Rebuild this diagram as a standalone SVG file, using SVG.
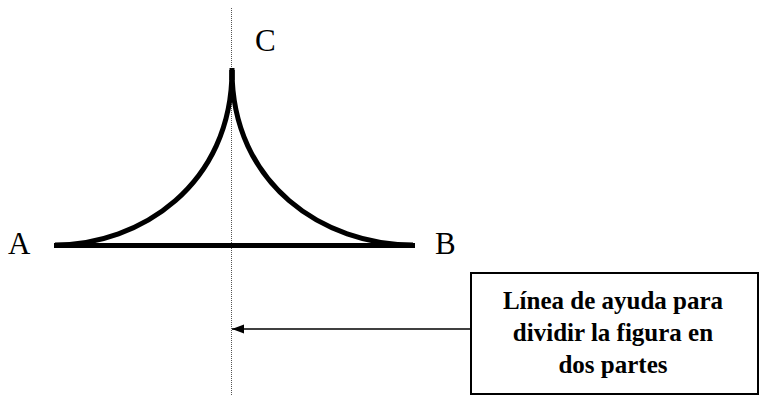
<svg xmlns="http://www.w3.org/2000/svg" width="759" height="396" viewBox="0 0 759 396">
<style>
.lbl{font-family:"Liberation Serif","Times New Roman",serif;font-size:31px;fill:#000}
.bt{font-family:"Liberation Serif","Times New Roman",serif;font-size:25px;font-weight:bold;fill:#000;text-anchor:middle}
.shape{fill:none;stroke:#000;stroke-width:5}
</style>
<defs>
<marker id="ah" markerWidth="12" markerHeight="10" refX="12" refY="5" orient="auto" markerUnits="userSpaceOnUse">
<path d="M0,0.5 L12,5 L0,9.5 Z" fill="#000"/>
</marker>
</defs>
<rect width="759" height="396" fill="#fff"/>
<g id="helper-line">
<line x1="231.5" y1="8" x2="231.5" y2="396" stroke="#555" stroke-width="1" stroke-dasharray="1,1"/>
</g>
<g id="figure">
<path class="shape" d="M232,70 C232,185 140,245 55,245"/>
<path class="shape" d="M232,70 C232,185 324,245 413,245"/>
<line class="shape" x1="54" y1="245.5" x2="415" y2="245.5"/>
<line x1="232" y1="68" x2="232" y2="80" stroke="#000" stroke-width="5"/>
</g>
<g id="labels">
<text class="lbl" x="255" y="51">C</text>
<text class="lbl" x="8" y="254">A</text>
<text class="lbl" x="435" y="254">B</text>
</g>
<g id="note">
<rect x="471" y="273" width="287" height="121" fill="#fff" stroke="#000" stroke-width="2"/>
<text class="bt" x="613" y="309">Línea de ayuda para</text>
<text class="bt" x="613" y="341">dividir la figura en</text>
<text class="bt" x="613" y="373">dos partes</text>
</g>
<g id="connectors">
<line x1="470" y1="329" x2="232" y2="329" stroke="#000" stroke-width="1.5" marker-end="url(#ah)"/>
</g>
</svg>
